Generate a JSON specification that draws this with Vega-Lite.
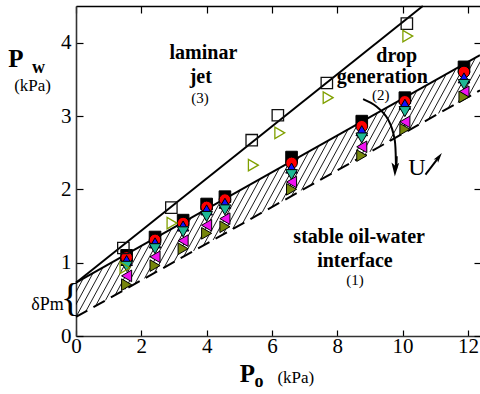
{
  "$schema": "https://vega.github.io/schema/vega-lite/v6.json",
  "width": 404,
  "height": 330,
  "autosize": {"type": "none"},
  "padding": {"left": 76, "top": 6, "right": 0, "bottom": 58},
  "background": "white",
  "config": {"view": {"stroke": null}, "font": "Liberation Serif, Times New Roman, Times, DejaVu Serif, serif"},
  "resolve": {"axis": {"x": "independent", "y": "independent"}},
  "datasets": {
    "hatch": [
      {"P_o": -0.6, "P_w": 0.11, "P_o2": 0.22, "P_w2": 0.782},
      {"P_o": -0.3, "P_w": 0.185, "P_o2": 0.52, "P_w2": 0.857},
      {"P_o": 0.0, "P_w": 0.26, "P_o2": 0.82, "P_w2": 0.932},
      {"P_o": 0.3, "P_w": 0.335, "P_o2": 1.12, "P_w2": 1.007},
      {"P_o": 0.6, "P_w": 0.41, "P_o2": 1.42, "P_w2": 1.082},
      {"P_o": 0.9, "P_w": 0.485, "P_o2": 1.72, "P_w2": 1.157},
      {"P_o": 1.2, "P_w": 0.56, "P_o2": 2.02, "P_w2": 1.232},
      {"P_o": 1.5, "P_w": 0.635, "P_o2": 2.32, "P_w2": 1.307},
      {"P_o": 1.8, "P_w": 0.71, "P_o2": 2.62, "P_w2": 1.382},
      {"P_o": 2.1, "P_w": 0.785, "P_o2": 2.92, "P_w2": 1.457},
      {"P_o": 2.4, "P_w": 0.86, "P_o2": 3.22, "P_w2": 1.532},
      {"P_o": 2.7, "P_w": 0.935, "P_o2": 3.52, "P_w2": 1.607},
      {"P_o": 3.0, "P_w": 1.01, "P_o2": 3.82, "P_w2": 1.682},
      {"P_o": 3.3, "P_w": 1.085, "P_o2": 4.12, "P_w2": 1.757},
      {"P_o": 3.6, "P_w": 1.16, "P_o2": 4.42, "P_w2": 1.832},
      {"P_o": 3.9, "P_w": 1.235, "P_o2": 4.72, "P_w2": 1.907},
      {"P_o": 4.2, "P_w": 1.31, "P_o2": 5.02, "P_w2": 1.982},
      {"P_o": 4.5, "P_w": 1.385, "P_o2": 5.32, "P_w2": 2.057},
      {"P_o": 4.8, "P_w": 1.46, "P_o2": 5.62, "P_w2": 2.132},
      {"P_o": 5.1, "P_w": 1.535, "P_o2": 5.92, "P_w2": 2.207},
      {"P_o": 5.4, "P_w": 1.61, "P_o2": 6.22, "P_w2": 2.282},
      {"P_o": 5.7, "P_w": 1.685, "P_o2": 6.52, "P_w2": 2.357},
      {"P_o": 6.0, "P_w": 1.76, "P_o2": 6.82, "P_w2": 2.432},
      {"P_o": 6.3, "P_w": 1.835, "P_o2": 7.12, "P_w2": 2.507},
      {"P_o": 6.6, "P_w": 1.91, "P_o2": 7.42, "P_w2": 2.582},
      {"P_o": 6.9, "P_w": 1.985, "P_o2": 7.72, "P_w2": 2.657},
      {"P_o": 7.2, "P_w": 2.06, "P_o2": 8.02, "P_w2": 2.732},
      {"P_o": 7.5, "P_w": 2.135, "P_o2": 8.32, "P_w2": 2.807},
      {"P_o": 7.8, "P_w": 2.21, "P_o2": 8.62, "P_w2": 2.882},
      {"P_o": 8.1, "P_w": 2.285, "P_o2": 8.92, "P_w2": 2.957},
      {"P_o": 8.4, "P_w": 2.36, "P_o2": 9.22, "P_w2": 3.032},
      {"P_o": 8.7, "P_w": 2.435, "P_o2": 9.52, "P_w2": 3.107},
      {"P_o": 9.0, "P_w": 2.51, "P_o2": 9.82, "P_w2": 3.182},
      {"P_o": 9.3, "P_w": 2.585, "P_o2": 10.12, "P_w2": 3.257},
      {"P_o": 9.6, "P_w": 2.66, "P_o2": 10.42, "P_w2": 3.332},
      {"P_o": 9.9, "P_w": 2.735, "P_o2": 10.72, "P_w2": 3.407},
      {"P_o": 10.2, "P_w": 2.81, "P_o2": 11.02, "P_w2": 3.482},
      {"P_o": 10.5, "P_w": 2.885, "P_o2": 11.32, "P_w2": 3.557},
      {"P_o": 10.8, "P_w": 2.96, "P_o2": 11.62, "P_w2": 3.632},
      {"P_o": 11.1, "P_w": 3.035, "P_o2": 11.92, "P_w2": 3.707},
      {"P_o": 11.4, "P_w": 3.11, "P_o2": 12.22, "P_w2": 3.782},
      {"P_o": 11.7, "P_w": 3.185, "P_o2": 12.52, "P_w2": 3.857},
      {"P_o": 12.0, "P_w": 3.26, "P_o2": 12.82, "P_w2": 3.932}
    ],
    "lines": [
      {"name": "upper", "P_o": 0, "P_w": 0.727},
      {"name": "upper", "P_o": 10.62, "P_w": 4.5},
      {"name": "middle", "P_o": 0, "P_w": 0.727},
      {"name": "middle", "P_o": 12.37, "P_w": 3.83},
      {"name": "dashed", "P_o": 0, "P_w": 0.26},
      {"name": "dashed", "P_o": 12.37, "P_w": 3.35}
    ],
    "arrow": [
      {"name": "curve", "P_o": 8.79, "P_w": 3.23},
      {"name": "curve", "P_o": 9.2, "P_w": 3.13},
      {"name": "curve", "P_o": 9.56, "P_w": 2.95},
      {"name": "curve", "P_o": 9.76, "P_w": 2.67},
      {"name": "curve", "P_o": 9.82, "P_w": 2.45},
      {"name": "curve", "P_o": 9.8, "P_w": 2.29},
      {"name": "small", "P_o": 10.7, "P_w": 2.2},
      {"name": "small", "P_o": 11.11, "P_w": 2.44}
    ],
    "heads": [
      {"name": "curve", "P_o": 9.77, "P_w": 2.27},
      {"name": "small", "P_o": 11.11, "P_w": 2.44}
    ],
    "filled": [
      {"P_o": 1.55, "P_w": 1.10, "s": "sq"},
      {"P_o": 2.42, "P_w": 1.35, "s": "sq"},
      {"P_o": 3.28, "P_w": 1.58, "s": "sq"},
      {"P_o": 4.0, "P_w": 1.80, "s": "sq"},
      {"P_o": 4.56, "P_w": 1.90, "s": "sq"},
      {"P_o": 6.6, "P_w": 2.44, "s": "sq"},
      {"P_o": 8.75, "P_w": 2.93, "s": "sq"},
      {"P_o": 10.07, "P_w": 3.25, "s": "sq"},
      {"P_o": 11.88, "P_w": 3.67, "s": "sq"},
      {"P_o": 1.55, "P_w": 1.07, "s": "ci"},
      {"P_o": 2.42, "P_w": 1.31, "s": "ci"},
      {"P_o": 3.28, "P_w": 1.54, "s": "ci"},
      {"P_o": 4.0, "P_w": 1.76, "s": "ci"},
      {"P_o": 4.56, "P_w": 1.86, "s": "ci"},
      {"P_o": 6.6, "P_w": 2.36, "s": "ci"},
      {"P_o": 8.75, "P_w": 2.86, "s": "ci"},
      {"P_o": 10.07, "P_w": 3.20, "s": "ci"},
      {"P_o": 11.88, "P_w": 3.60, "s": "ci"},
      {"P_o": 1.55, "P_w": 1.03, "s": "tu"},
      {"P_o": 2.42, "P_w": 1.27, "s": "tu"},
      {"P_o": 3.28, "P_w": 1.50, "s": "tu"},
      {"P_o": 4.0, "P_w": 1.72, "s": "tu"},
      {"P_o": 4.56, "P_w": 1.81, "s": "tu"},
      {"P_o": 6.6, "P_w": 2.29, "s": "tu"},
      {"P_o": 8.75, "P_w": 2.80, "s": "tu"},
      {"P_o": 10.07, "P_w": 3.16, "s": "tu"},
      {"P_o": 11.88, "P_w": 3.52, "s": "tu"},
      {"P_o": 1.55, "P_w": 0.95, "s": "td"},
      {"P_o": 2.42, "P_w": 1.19, "s": "td"},
      {"P_o": 3.28, "P_w": 1.42, "s": "td"},
      {"P_o": 4.0, "P_w": 1.63, "s": "td"},
      {"P_o": 4.56, "P_w": 1.72, "s": "td"},
      {"P_o": 6.6, "P_w": 2.20, "s": "td"},
      {"P_o": 8.75, "P_w": 2.70, "s": "td"},
      {"P_o": 10.07, "P_w": 3.06, "s": "td"},
      {"P_o": 11.88, "P_w": 3.43, "s": "td"},
      {"P_o": 1.55, "P_w": 0.82, "s": "tl"},
      {"P_o": 2.42, "P_w": 1.08, "s": "tl"},
      {"P_o": 3.28, "P_w": 1.30, "s": "tl"},
      {"P_o": 4.0, "P_w": 1.51, "s": "tl"},
      {"P_o": 4.56, "P_w": 1.60, "s": "tl"},
      {"P_o": 6.6, "P_w": 2.10, "s": "tl"},
      {"P_o": 8.75, "P_w": 2.58, "s": "tl"},
      {"P_o": 10.07, "P_w": 2.92, "s": "tl"},
      {"P_o": 11.88, "P_w": 3.33, "s": "tl"},
      {"P_o": 1.55, "P_w": 0.70, "s": "tr"},
      {"P_o": 2.42, "P_w": 0.96, "s": "tr"},
      {"P_o": 3.28, "P_w": 1.19, "s": "tr"},
      {"P_o": 4.0, "P_w": 1.40, "s": "tr"},
      {"P_o": 4.56, "P_w": 1.49, "s": "tr"},
      {"P_o": 6.6, "P_w": 2.00, "s": "tr"},
      {"P_o": 8.75, "P_w": 2.46, "s": "tr"},
      {"P_o": 10.07, "P_w": 2.82, "s": "tr"},
      {"P_o": 11.88, "P_w": 3.26, "s": "tr"}
    ],
    "open": [
      {"P_o": 1.45, "P_w": 1.20, "s": "osq"},
      {"P_o": 2.92, "P_w": 1.75, "s": "osq"},
      {"P_o": 5.38, "P_w": 2.67, "s": "osq"},
      {"P_o": 6.18, "P_w": 3.01, "s": "osq"},
      {"P_o": 7.68, "P_w": 3.45, "s": "osq"},
      {"P_o": 10.13, "P_w": 4.26, "s": "osq"},
      {"P_o": 1.50, "P_w": 0.93, "s": "otr"},
      {"P_o": 2.94, "P_w": 1.54, "s": "otr"},
      {"P_o": 5.43, "P_w": 2.33, "s": "otr"},
      {"P_o": 6.24, "P_w": 2.77, "s": "otr"},
      {"P_o": 7.72, "P_w": 3.25, "s": "otr"},
      {"P_o": 10.16, "P_w": 4.09, "s": "otr"}
    ],
    "labels": [
      {"text": "laminar", "P_o": 3.90, "P_w": 3.775, "kind": "region"},
      {"text": "jet", "P_o": 3.82, "P_w": 3.456, "kind": "region"},
      {"text": "drop", "P_o": 9.82, "P_w": 3.73, "kind": "region"},
      {"text": "generation", "P_o": 9.38, "P_w": 3.45, "kind": "region"},
      {"text": "stable oil-water", "P_o": 8.67, "P_w": 1.265, "kind": "region"},
      {"text": "interface", "P_o": 8.54, "P_w": 0.937, "kind": "region"},
      {"text": "(3)", "P_o": 3.80, "P_w": 3.18, "kind": "num"},
      {"text": "(2)", "P_o": 9.33, "P_w": 3.22, "kind": "num"},
      {"text": "(1)", "P_o": 8.54, "P_w": 0.70, "kind": "num"},
      {"text": "P", "P_o": -1.84, "P_w": 3.67, "kind": "titleP"},
      {"text": "P", "P_o": 5.25, "P_w": -0.623, "kind": "titleP"},
      {"text": "w", "P_o": -1.15, "P_w": 3.59, "kind": "sub"},
      {"text": "o", "P_o": 5.60, "P_w": -0.70, "kind": "sub"},
      {"text": "(kPa)", "P_o": -1.33, "P_w": 3.335, "kind": "unit"},
      {"text": "(kPa)", "P_o": 6.73, "P_w": -0.645, "kind": "unit"},
      {"text": "δPm", "P_o": -0.87, "P_w": 0.36, "kind": "dP"},
      {"text": "U", "P_o": 10.44, "P_w": 2.20, "kind": "U"},
      {"text": "{", "P_o": -0.17, "P_w": 0.34, "kind": "brace"}
    ]
  },
  "layer": [
    {
      "data": {"name": "hatch"},
      "mark": {"type": "rule", "clip": true, "color": "black", "strokeWidth": 0.9},
      "encoding": {
        "x": {"field": "P_o", "type": "quantitative",
              "scale": {"domain": [0, 12.37], "nice": false, "zero": false},
              "axis": {"orient": "bottom", "values": [0, 2, 4, 6, 8, 10, 12], "tickSize": -6, "tickColor": "black", "tickWidth": 1.2,
                       "domainColor": "#333", "domainWidth": 1.6, "labelFont": "Liberation Serif, Times New Roman, Times, DejaVu Serif, serif", "labelFontSize": 21,
                       "labelColor": "black", "labelPadding": 5, "labelFlush": false, "labelOverlap": false, "grid": false, "title": null}},
        "y": {"field": "P_w", "type": "quantitative",
              "scale": {"domain": [0, 4.5], "nice": false, "zero": false},
              "axis": {"orient": "left", "values": [0, 1, 2, 3, 4], "tickSize": -7, "tickColor": "black", "tickWidth": 1.2,
                       "domainColor": "#333", "domainWidth": 1.6, "labelFont": "Liberation Serif, Times New Roman, Times, DejaVu Serif, serif", "labelFontSize": 21,
                       "labelColor": "black", "labelPadding": 12, "labelFlush": false, "labelOverlap": false, "grid": false, "title": null}},
        "x2": {"field": "P_o2"},
        "y2": {"field": "P_w2"}
      }
    },
    {
      "data": {"name": "lines"},
      "transform": [{"filter": "datum.name !== 'dashed'"}],
      "mark": {"type": "line", "color": "black", "strokeWidth": 2},
      "encoding": {
        "x": {"field": "P_o", "type": "quantitative",
              "axis": {"orient": "top", "values": [0, 2, 4, 6, 8, 10, 12], "tickSize": -7, "tickColor": "black", "tickWidth": 1.2,
                       "domainColor": "black", "domainWidth": 1.6, "labels": false, "grid": false, "title": null}},
        "y": {"field": "P_w", "type": "quantitative",
              "axis": {"orient": "right", "values": [0, 1, 2, 3, 4], "tickSize": -6, "tickColor": "black", "tickWidth": 1.2,
                       "domain": false, "labels": false, "grid": false, "title": null}},
        "detail": {"field": "name"}
      }
    },
    {
      "data": {"name": "lines"},
      "transform": [{"filter": "datum.name === 'dashed'"}],
      "mark": {"type": "line", "color": "black", "strokeWidth": 2, "strokeDash": [13, 7]},
      "encoding": {
        "x": {"field": "P_o", "type": "quantitative", "axis": null},
        "y": {"field": "P_w", "type": "quantitative", "axis": null}
      }
    },
    {
      "data": {"name": "arrow"},
      "mark": {"type": "line", "color": "black", "strokeWidth": 2, "interpolate": "cardinal"},
      "encoding": {
        "x": {"field": "P_o", "type": "quantitative", "axis": null},
        "y": {"field": "P_w", "type": "quantitative", "axis": null},
        "detail": {"field": "name"}
      }
    },
    {
      "data": {"name": "heads"},
      "transform": [{"filter": "datum.name === 'curve'"}],
      "mark": {"type": "point", "shape": "M0,-1L0.55,1L0,0.55L-0.55,1Z", "filled": true, "color": "black", "opacity": 1, "size": 196, "angle": 182},
      "encoding": {
        "x": {"field": "P_o", "type": "quantitative", "axis": null},
        "y": {"field": "P_w", "type": "quantitative", "axis": null}
      }
    },
    {
      "data": {"name": "heads"},
      "transform": [{"filter": "datum.name === 'small'"}],
      "mark": {"type": "point", "shape": "M0,-1L0.55,1L0,0.55L-0.55,1Z", "filled": true, "color": "black", "opacity": 1, "size": 100, "angle": 37},
      "encoding": {
        "x": {"field": "P_o", "type": "quantitative", "axis": null},
        "y": {"field": "P_w", "type": "quantitative", "axis": null}
      }
    },
    {
      "data": {"name": "filled"},
      "mark": {"type": "point", "filled": true, "stroke": "black", "strokeWidth": 1, "opacity": 1, "size": 135},
      "encoding": {
        "x": {"field": "P_o", "type": "quantitative", "axis": null},
        "y": {"field": "P_w", "type": "quantitative", "axis": null},
        "shape": {"field": "s", "type": "nominal", "legend": null,
                  "scale": {"domain": ["sq", "ci", "tu", "td", "tl", "tr", "osq", "otr"],
                            "range": ["square", "circle", "triangle-up", "triangle-down", "triangle-left", "triangle-right", "square", "triangle-right"]}},
        "fill": {"field": "s", "type": "nominal", "legend": null,
                 "scale": {"domain": ["sq", "ci", "tu", "td", "tl", "tr"],
                           "range": ["#000000", "#ff0000", "#1010ff", "#1fb894", "#f013f0", "#76860c"]}}
      }
    },
    {
      "data": {"name": "open"},
      "mark": {"type": "point", "filled": false, "strokeWidth": 1.3, "opacity": 1, "size": 130},
      "encoding": {
        "x": {"field": "P_o", "type": "quantitative", "axis": null},
        "y": {"field": "P_w", "type": "quantitative", "axis": null},
        "shape": {"field": "s", "type": "nominal", "legend": null,
                  "scale": {"domain": ["sq", "ci", "tu", "td", "tl", "tr", "osq", "otr"],
                            "range": ["square", "circle", "triangle-up", "triangle-down", "triangle-left", "triangle-right", "square", "triangle-right"]}},
        "stroke": {"field": "s", "type": "nominal", "legend": null,
                   "scale": {"domain": ["osq", "otr"], "range": ["#111111", "#80a000"]}}
      }
    },
    {
      "data": {"name": "labels"},
      "transform": [{"filter": "datum.kind === 'region'"}],
      "mark": {"type": "text", "fontWeight": "bold", "fontSize": 20, "align": "center", "baseline": "alphabetic", "color": "black"},
      "encoding": {
        "x": {"field": "P_o", "type": "quantitative", "axis": null},
        "y": {"field": "P_w", "type": "quantitative", "axis": null},
        "text": {"field": "text"}
      }
    },
    {
      "data": {"name": "labels"},
      "transform": [{"filter": "datum.kind === 'num'"}],
      "mark": {"type": "text", "fontSize": 15, "align": "center", "baseline": "alphabetic", "color": "black"},
      "encoding": {
        "x": {"field": "P_o", "type": "quantitative", "axis": null},
        "y": {"field": "P_w", "type": "quantitative", "axis": null},
        "text": {"field": "text"}
      }
    },
    {
      "data": {"name": "labels"},
      "transform": [{"filter": "datum.kind === 'titleP'"}],
      "mark": {"type": "text", "fontWeight": "bold", "fontSize": 25, "align": "center", "baseline": "alphabetic", "color": "black"},
      "encoding": {
        "x": {"field": "P_o", "type": "quantitative", "axis": null},
        "y": {"field": "P_w", "type": "quantitative", "axis": null},
        "text": {"field": "text"}
      }
    },
    {
      "data": {"name": "labels"},
      "transform": [{"filter": "datum.kind === 'sub'"}],
      "mark": {"type": "text", "fontWeight": "bold", "fontSize": 18, "align": "center", "baseline": "alphabetic", "color": "black"},
      "encoding": {
        "x": {"field": "P_o", "type": "quantitative", "axis": null},
        "y": {"field": "P_w", "type": "quantitative", "axis": null},
        "text": {"field": "text"}
      }
    },
    {
      "data": {"name": "labels"},
      "transform": [{"filter": "datum.kind === 'unit'"}],
      "mark": {"type": "text", "fontSize": 17, "align": "center", "baseline": "alphabetic", "color": "black"},
      "encoding": {
        "x": {"field": "P_o", "type": "quantitative", "axis": null},
        "y": {"field": "P_w", "type": "quantitative", "axis": null},
        "text": {"field": "text"}
      }
    },
    {
      "data": {"name": "labels"},
      "transform": [{"filter": "datum.kind === 'dP'"}],
      "mark": {"type": "text", "fontSize": 18, "align": "center", "baseline": "alphabetic", "color": "black"},
      "encoding": {
        "x": {"field": "P_o", "type": "quantitative", "axis": null},
        "y": {"field": "P_w", "type": "quantitative", "axis": null},
        "text": {"field": "text"}
      }
    },
    {
      "data": {"name": "labels"},
      "transform": [{"filter": "datum.kind === 'U'"}],
      "mark": {"type": "text", "fontSize": 24, "align": "center", "baseline": "alphabetic", "color": "black"},
      "encoding": {
        "x": {"field": "P_o", "type": "quantitative", "axis": null},
        "y": {"field": "P_w", "type": "quantitative", "axis": null},
        "text": {"field": "text"}
      }
    },
    {
      "data": {"name": "labels"},
      "transform": [{"filter": "datum.kind === 'brace'"}],
      "mark": {"type": "text", "fontSize": 40, "align": "center", "baseline": "alphabetic", "color": "black"},
      "encoding": {
        "x": {"field": "P_o", "type": "quantitative", "axis": null},
        "y": {"field": "P_w", "type": "quantitative", "axis": null},
        "text": {"field": "text"}
      }
    }
  ]
}
